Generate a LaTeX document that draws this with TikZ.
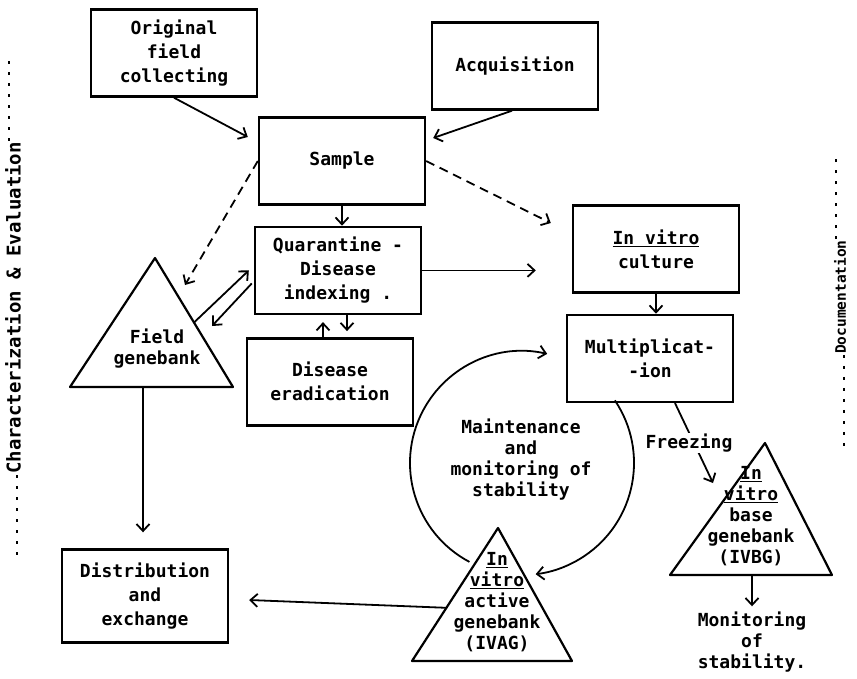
\documentclass[tikz,border=0pt]{standalone}
\usepackage{fontspec}
\setmonofont{DejaVu Sans Mono}
\usetikzlibrary{arrows.meta, positioning, calc}
\tikzset{
    block/.style={
        rectangle, draw=black, line width=2.4pt, fill=white,
        align=center, minimum width=166pt, minimum height=87pt,
        font=\fontsize{18}{24}\selectfont\ttfamily\bfseries, inner sep=2pt
    },
    tritext/.style={align=center, inner sep=0pt, font=\fontsize{18}{21}\selectfont\ttfamily\bfseries},
    genebank/.style={draw=black, line width=2.2pt, line join=round},
    connection/.style={draw=black, line width=1.8pt, -{Straight Barb[length=7pt,width=13pt]}},
    dashconn/.style={connection, dash pattern=on 9pt off 6pt},
    note/.style={align=center, font=\fontsize{18}{21}\selectfont\ttfamily\bfseries},
    sidenote/.style={rotate=90, inner sep=1pt},
    sidedots/.style={draw=black, line width=2.2pt, dash pattern=on 3pt off 8pt}
}
\begin{document}
\begin{tikzpicture}[x=1pt, y=-1pt]
\fill[white] (0,0) rectangle (857,678);
\useasboundingbox (0,0) rectangle (857,678);

% Sources
\node[block] (orig) at (174,53) {Original\\field\\collecting};
\node[block] (acq) at (515,66) {Acquisition};
\node[block] (sample) at (342,161) {Sample};

% Quarantine chain
\node[block] (quar) [below=20pt of sample, xshift=-4pt] {Quarantine -\\Disease\\indexing .};
\node[block] (erad) [below=22pt of quar, xshift=-8pt] {Disease\\eradication};

% In vitro chain
\node[block] (invitro) at (656,249) {\underline{In vitro}\\culture};
\node[block] (mult) [below=20pt of invitro, xshift=-6pt] {Multiplicat-\\-ion};

% Distribution
\node[block, minimum height=93pt] (distr) at (145,596) {Distribution\\and\\exchange};

% Genebanks
\coordinate (fA) at (155,258);
\coordinate (fL) at (70,387);
\coordinate (fR) at (233,387);
\coordinate (fM) at (143,387);
\draw[genebank] (fA) -- (fL) -- (fR) -- cycle;
\node[tritext] (field) at (157,349) {Field\\genebank};

\coordinate (aA) at (498,528);
\coordinate (aL) at (412,661);
\coordinate (aR) at (572,661);
\draw[genebank] (aA) -- (aL) -- (aR) -- cycle;
\node[tritext] (active) at (497,602) {\underline{In}\\\underline{vitro}\\active\\genebank\\(IVAG)};

\coordinate (bA) at (765,443);
\coordinate (bL) at (670,575);
\coordinate (bR) at (832,575);
\coordinate (bM) at (752,575);
\draw[genebank] (bA) -- (bL) -- (bR) -- cycle;
\node[tritext] (base) at (751,516) {\underline{In}\\\underline{vitro}\\base\\genebank\\(IVBG)};

\node[note] (mon) at (752,642) {Monitoring\\of\\stability.};

% Maintenance cycle
\coordinate (cyc) at (522,463);
\node[note] (maint) at (521,460) {Maintenance\\and\\monitoring of\\stability};

% Connections
\draw[connection] (orig.south) -- ([shift={(-10,-24)}]sample.west);
\draw[connection] ([xshift=-3pt]acq.south) -- ([shift={(7,-23)}]sample.east);
\draw[connection] (sample.south) -- (sample.south |- quar.north);
\draw[dashconn] (sample.west) -- ([shift={(30,27)}]fA);
\draw[dashconn] (sample.east) -- ([shift={(-21,-26)}]invitro.west);
\draw[connection, shorten >=36pt] (quar.east) -- (quar.east -| invitro.west);
\draw[connection] (invitro.south) -- (invitro.south |- mult.north);
\draw[connection] ($(fR)!0.5!(fA)$) -- ([shift={(-5,0)}]quar.west);
\draw[connection] ([shift={(-2,13)}]quar.west) -- ([shift={(57,68)}]fA);
\draw[connection, shorten >=7pt] ([xshift=-7pt]erad.north) -- ([xshift=-7pt]erad.north |- quar.south);
\draw[connection, shorten >=6pt] ([xshift=9pt]quar.south) -- ([xshift=9pt]quar.south |- erad.north);
\draw[connection, shorten >=16pt] (fM) -- (fM |- distr.north);
\draw[connection] ($(aL)!0.4!(aA)$) -- ([shift={(20,4)}]distr.east);
\draw[connection] ([shift={(118:112)}]cyc) arc[start angle=118, end angle=283, radius=112];
\draw[connection] ([shift={(-34:112)}]cyc) arc[start angle=-34, end angle=83, radius=112];
\draw[connection] ([xshift=25pt]mult.south) -- node[note, fill=white, inner sep=1pt, xshift=-5pt] (frz) {Freezing} ([shift={(-52,40)}]bA);
\draw[connection, shorten >=2pt] (bM) -- (bM |- mon.north);

% Side annotations
\node[sidenote, font=\fontsize{19}{21}\selectfont\ttfamily\bfseries] (chareval) at (13,308) {Characterization \& Evaluation};
\draw[sidedots] ([xshift=-4pt]chareval.east) -- ++(0,-85);
\draw[sidedots] ([xshift=4pt]chareval.west) -- ++(0,85);
\node[sidenote, font=\fontsize{14.5}{17}\selectfont\ttfamily\bfseries] (docu) at (840,297) {Documentation};
\draw[sidedots] ([xshift=-4pt]docu.east) -- ++(0,-85);
\draw[sidedots] ([xshift=4pt]docu.west) -- ++(0,95);

\end{tikzpicture}
\end{document}
